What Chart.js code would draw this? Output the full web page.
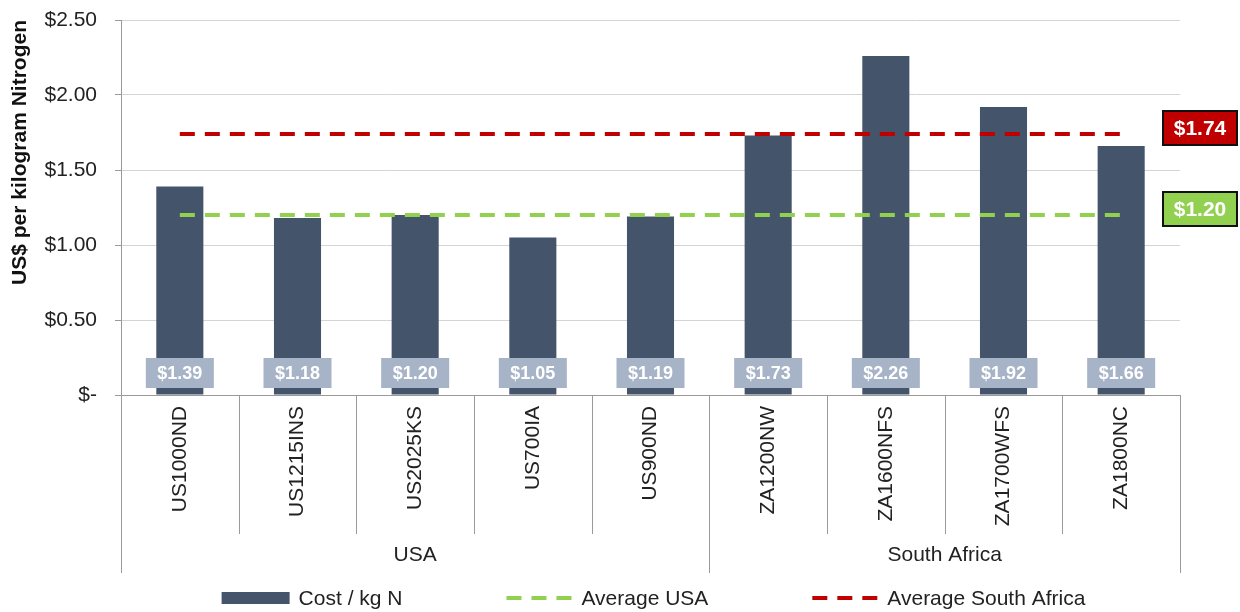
<!DOCTYPE html>
<html>
<head>
<meta charset="utf-8">
<script src="https://cdn.jsdelivr.net/npm/chart.js@4.4.1/dist/chart.umd.min.js"></script>
<style>
  html, body { margin: 0; padding: 0; background: #fff; }
  #wrap { width: 1240px; height: 612px; }
</style>
</head>
<body>
<div id="wrap"><canvas id="cost-chart" width="1240" height="612"></canvas></div>
<script>
// Cost per kg of nitrogen by site
const sites = ["US1000ND", "US1215INS", "US2025KS", "US700IA", "US900ND",
  "ZA1200NW", "ZA1600NFS", "ZA1700WFS", "ZA1800NC"];
const costPerKgN = [1.39, 1.18, 1.20, 1.05, 1.19, 1.73, 2.26, 1.92, 1.66];
const regions = ["USA", "South Africa"];
const regionSiteCount = [5, 4];
const averageUSA = 1.20;
const averageSouthAfrica = 1.74;
const yTicks = [0, 0.5, 1.0, 1.5, 2.0, 2.5];

const FONT = "'Liberation Sans', Arial, sans-serif";
const money = v => "$" + v.toFixed(2);

// Value boxes at the foot of each bar, group separators, region names,
// the average call-outs at the right and the legend row.
const annotations = {
  id: "annotations",
  afterDatasetsDraw(chart) {
    const ctx = chart.ctx;
    const y = chart.scales.y;
    const area = chart.chartArea;
    const bars = chart.getDatasetMeta(0).data;

    ctx.save();
    ctx.font = "bold 18px " + FONT;
    ctx.textAlign = "center";
    ctx.textBaseline = "middle";
    bars.forEach((bar, i) => {
      const bw = 68, bh = 30;
      const by = area.bottom - 7 - bh;
      ctx.fillStyle = "#a7b3c7";
      ctx.fillRect(bar.x - bw / 2, by, bw, bh);
      ctx.fillStyle = "#ffffff";
      ctx.fillText(money(costPerKgN[i]), bar.x, by + bh / 2 + 1);
    });

    const callout = (value, fill) => {
      const cy = y.getPixelForValue(value) - 6;
      const bx = area.right - 17, bw = 74, bh = 34;
      ctx.fillStyle = fill;
      ctx.fillRect(bx, cy - bh / 2, bw, bh);
      ctx.lineWidth = 2;
      ctx.strokeStyle = "#111";
      ctx.strokeRect(bx, cy - bh / 2, bw, bh);
      ctx.fillStyle = "#fff";
      ctx.font = "bold 21px " + FONT;
      ctx.fillText(money(value), bx + bw / 2, cy + 1);
    };
    callout(averageSouthAfrica, "#c00000");
    callout(averageUSA, "#92d050");
    ctx.restore();
  },
  afterDraw(chart) {
    const ctx = chart.ctx;
    const area = chart.chartArea;
    const step = (area.right - area.left) / sites.length;
    const sepShort = area.bottom + 139;
    const sepLong = area.bottom + 178;

    ctx.save();
    ctx.strokeStyle = "#9a9a9a";
    ctx.lineWidth = 1;
    // boundaries that close a region run down past the region names
    const groupEdges = [0];
    regionSiteCount.reduce((acc, n) => { groupEdges.push(acc + n); return acc + n; }, 0);
    for (let i = 0; i <= sites.length; i++) {
      const px = Math.round(area.left + i * step) + 0.5;
      const long = groupEdges.includes(i);
      ctx.beginPath();
      ctx.moveTo(px, area.bottom);
      ctx.lineTo(px, long ? sepLong : sepShort);
      ctx.stroke();
    }

    ctx.fillStyle = "#222";
    ctx.font = "21px " + FONT;
    ctx.textAlign = "center";
    ctx.textBaseline = "middle";
    let start = 0;
    regions.forEach((name, g) => {
      const end = start + regionSiteCount[g];
      const cx = area.left + (start + end) / 2 * step;
      ctx.fillText(name, cx, area.bottom + 160);
      start = end;
    });

    // legend row
    const items = chart.data.datasets.map(ds => ({
      text: ds.label, type: ds.type, color: ds.borderColor || ds.backgroundColor
    }));
    const swatchW = 68, toText = 9, between = 102;
    ctx.font = "21px " + FONT;
    ctx.textAlign = "left";
    const widths = items.map(it => swatchW + toText + ctx.measureText(it.text).width);
    const total = widths.reduce((a, b) => a + b, 0) + between * (items.length - 1);
    let lx = (area.left + area.right) / 2 - total / 2 + 3;
    const ly = 598;
    items.forEach((it, i) => {
      if (it.type === "bar") {
        ctx.fillStyle = it.color;
        ctx.fillRect(lx, ly - 6, swatchW, 12);
      } else {
        ctx.strokeStyle = it.color;
        ctx.lineWidth = 4;
        ctx.setLineDash([15, 10]);
        ctx.beginPath();
        ctx.moveTo(lx + 2, ly);
        ctx.lineTo(lx + swatchW, ly);
        ctx.stroke();
        ctx.setLineDash([]);
      }
      ctx.fillStyle = "#222";
      ctx.fillText(it.text, lx + swatchW + toText, ly + 1);
      lx += widths[i] + between;
    });
    ctx.restore();
  }
};

new Chart(document.getElementById("cost-chart"), {
  data: {
    labels: sites,
    datasets: [
      {
        type: "bar",
        label: "Cost / kg N",
        data: costPerKgN,
        backgroundColor: "#44546a",
        barPercentage: 0.4,
        categoryPercentage: 1.0,
        order: 2
      },
      {
        type: "line",
        label: "Average USA",
        data: sites.map(() => averageUSA),
        borderColor: "#92d050",
        borderWidth: 4,
        borderDash: [15, 10],
        pointRadius: 0,
        order: 1
      },
      {
        type: "line",
        label: "Average South Africa",
        data: sites.map(() => averageSouthAfrica),
        borderColor: "#c00000",
        borderWidth: 4,
        borderDash: [15, 10],
        pointRadius: 0,
        order: 0
      }
    ]
  },
  options: {
    responsive: false,
    animation: false,
    layout: { padding: { top: 20, right: 60, left: 0, bottom: 37 } },
    plugins: {
      tooltip: { enabled: false },
      legend: { display: false }
    },
    scales: {
      x: {
        offset: true,
        grid: { display: false, drawTicks: false },
        border: { display: true, color: "#9a9a9a" },
        ticks: {
          autoSkip: false,
          minRotation: 90,
          maxRotation: 90,
          padding: 11,
          color: "#222",
          font: { family: FONT, size: 21 }
        },
        afterFit(scale) { scale.height = 180; }
      },
      y: {
        min: 0,
        max: 2.5,
        afterBuildTicks(scale) { scale.ticks = yTicks.map(v => ({ value: v })); },
        grid: { color: "#d4d4d4", tickLength: 6, tickColor: "#9a9a9a" },
        border: { display: true, color: "#9a9a9a" },
        ticks: {
          padding: 18,
          color: "#222",
          font: { family: FONT, size: 21 },
          callback: v => (v === 0 ? "$-" : money(v))
        },
        title: {
          display: true,
          align: "end",
          text: "US$ per kilogram Nitrogen",
          color: "#111",
          font: { family: FONT, size: 21, weight: "bold" },
          padding: { top: 8, bottom: 0 }
        },
        afterFit(scale) {
          scale.width = 121;
          // the tick padding is horizontal here, keep it out of the top margin
          scale.paddingTop = 12;
          scale.paddingBottom = 12;
        }
      }
    }
  },
  plugins: [annotations]
});
</script>
</body>
</html>
